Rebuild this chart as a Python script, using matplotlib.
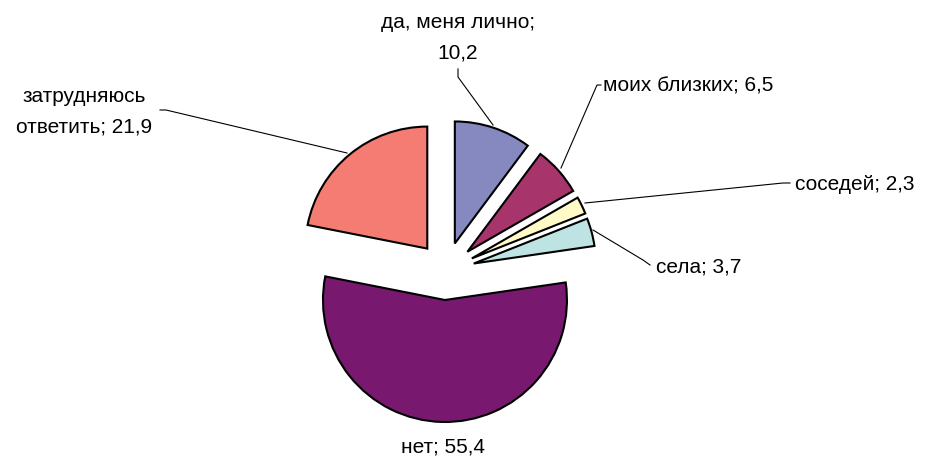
import matplotlib
matplotlib.use("Agg")
import matplotlib.pyplot as plt

# survey answers, percent
labels = ["да, меня лично;\n10,2", "моих близких; 6,5", "соседей; 2,3",
          "села; 3,7", "нет; 55,4", "затрудняюсь\nответить; 21,9"]
values = [10.2, 6.5, 2.3, 3.7, 55.4, 21.9]
colors = ["#8689C0", "#A8346C", "#FFFAC6", "#BEE3E3", "#78186F", "#F47C72"]

W, H = 934, 459


def px(x, y):
    # image pixel coords -> data coords (y up)
    return x, H - y


fig = plt.figure(figsize=(W / 100, H / 100), dpi=100)
ax = fig.add_axes([0, 0, 1, 1])
ax.set_xlim(0, W)
ax.set_ylim(0, H)
ax.set_aspect("equal")
ax.axis("off")

R = 122
# explode is in data units here (pixels), not a fraction
ax.pie(values, colors=colors, startangle=90, counterclock=False,
       radius=R, center=px(445.7, 271), explode=[29] * len(values),
       wedgeprops=dict(edgecolor="black", linewidth=1.5), frame=False)
ax.set_xlim(0, W)
ax.set_ylim(0, H)

# leader lines
leaders = [
    [(458, 69), (458, 77), (493, 125)],
    [(601, 85), (597, 85), (561, 168)],
    [(790, 183), (783, 183), (585, 203)],
    [(650, 265), (643, 260), (593, 230)],
    [(160, 110), (166, 110), (347, 153)],
]
for pts in leaders:
    xs = [px(*p)[0] for p in pts]
    ys = [px(*p)[1] for p in pts]
    ax.plot(xs, ys, color="black", linewidth=0.8)

font = dict(family="Liberation Sans", fontsize=15, color="black")
ax.text(*px(458, 38), labels[0], ha="center", va="center", linespacing=1.75, **font)
ax.text(*px(603, 86), labels[1], ha="left", va="center", **font)
ax.text(*px(795, 185), labels[2], ha="left", va="center", **font)
ax.text(*px(656, 267), labels[3], ha="left", va="center", **font)
ax.text(*px(443, 447), labels[4], ha="center", va="center", **font)
ax.text(*px(84, 112), labels[5], ha="center", va="center", linespacing=1.75, **font)

fig.savefig("out.png", dpi=100)
